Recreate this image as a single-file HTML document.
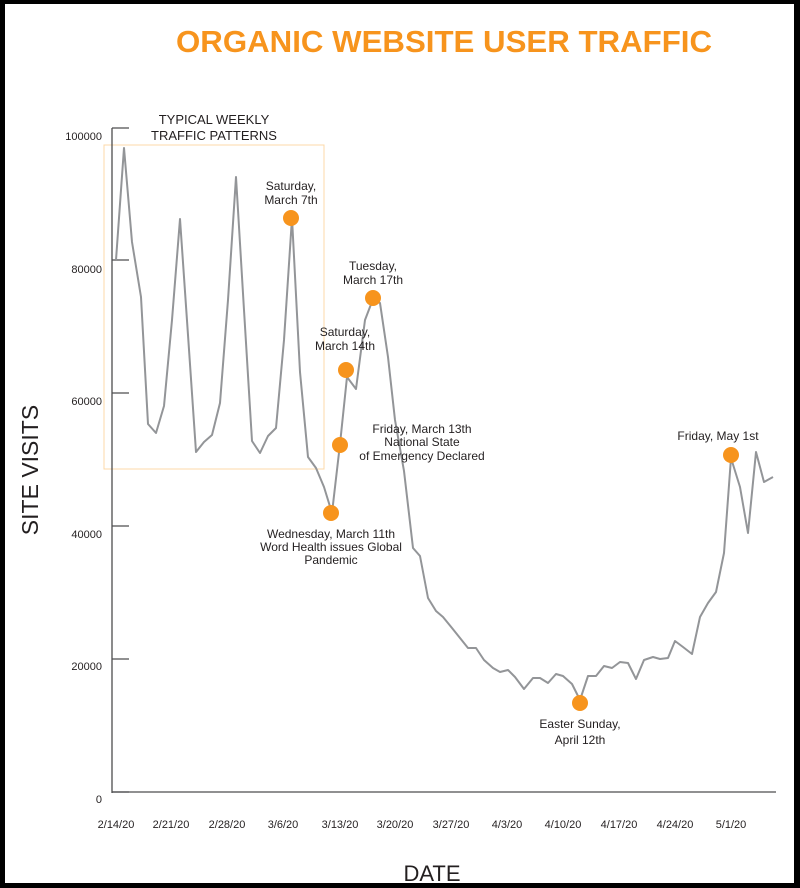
<!DOCTYPE html>
<html><head><meta charset="utf-8"><style>
html,body{margin:0;padding:0;background:#000}
svg{display:block}
text{font-family:"Liberation Sans",sans-serif;fill:#231f20}
</style></head><body>
<svg width="800" height="888" viewBox="0 0 800 888" xmlns="http://www.w3.org/2000/svg">
<rect x="0" y="0" width="800" height="888" fill="#000"/>
<rect x="5" y="4" width="789" height="879" fill="#fff"/>
<text x="444" y="52" text-anchor="middle" font-size="31" font-weight="bold" style="fill:#f7941d" textLength="536" lengthAdjust="spacingAndGlyphs">ORGANIC WEBSITE USER TRAFFIC</text>
<rect x="104" y="145" width="220" height="324" fill="none" stroke="#fcd9a8" stroke-width="1"/>
<text x="214" y="124" text-anchor="middle" font-size="13">TYPICAL WEEKLY</text>
<text x="214" y="140" text-anchor="middle" font-size="13">TRAFFIC PATTERNS</text>
<g stroke="#4d4d4f" stroke-width="1.3" fill="none">
<line x1="112" y1="128" x2="112" y2="793"/>
<line x1="112" y1="792" x2="776" y2="792"/>
<line x1="112" y1="128" x2="129" y2="128"/>
<line x1="112" y1="260" x2="129" y2="260"/>
<line x1="112" y1="393" x2="129" y2="393"/>
<line x1="112" y1="526" x2="129" y2="526"/>
<line x1="112" y1="659" x2="129" y2="659"/>
<line x1="112" y1="792" x2="129" y2="792"/>
</g>
<g font-size="11" text-anchor="end">
<text x="102" y="140">100000</text>
<text x="102" y="273">80000</text>
<text x="102" y="405">60000</text>
<text x="102" y="538">40000</text>
<text x="102" y="670">20000</text>
<text x="102" y="803">0</text>
</g>
<g font-size="11" text-anchor="middle">
<text x="116" y="828">2/14/20</text><text x="171" y="828">2/21/20</text><text x="227" y="828">2/28/20</text><text x="283" y="828">3/6/20</text><text x="340" y="828">3/13/20</text><text x="395" y="828">3/20/20</text><text x="451" y="828">3/27/20</text><text x="507" y="828">4/3/20</text><text x="563" y="828">4/10/20</text><text x="619" y="828">4/17/20</text><text x="675" y="828">4/24/20</text><text x="731" y="828">5/1/20</text>
</g>
<text x="432" y="881" text-anchor="middle" font-size="22">DATE</text>
<text transform="translate(38,470) rotate(-90)" text-anchor="middle" font-size="23">SITE VISITS</text>
<polyline fill="none" stroke="#939598" stroke-width="2" stroke-linejoin="round" points="116,260 124,148 132,242 141,297 148,424 156,433 164,406 172,320 180,219 188,335 196,452 204,442 212,435 220,403 228,300 236,177 244,310 252,441 260,453 268,436 276,428 284,340 292,218 300,372 308,457 316,468 324,487 332,513 340,444 347,377 356,389 365,320 373,299 380,303 388,357 395,420 404,471 413,548 420,556 428,598 436,611 443,617 452,628 460,638 468,648 476,648 484,660 493,668 500,672 508,670 515,677 524,689 533,678 540,678 548,683 556,674 563,676 572,684 580,700 588,676 596,676 604,666 612,668 620,662 628,663 636,679 644,660 653,657 660,659 668,658 675,641 683,647 692,654 700,617 708,603 716,592 724,553 731,458 740,487 748,533 756,452 764,482 773,477"/>
<g fill="#f7941d">
<circle cx="291" cy="218" r="8"/>
<circle cx="331" cy="513" r="8"/>
<circle cx="340" cy="445" r="8"/>
<circle cx="346" cy="370" r="8"/>
<circle cx="373" cy="298" r="8"/>
<circle cx="580" cy="703" r="8"/>
<circle cx="731" cy="455" r="8"/>
</g>
<g font-size="12" text-anchor="middle">
<text x="291" y="190">Saturday,</text><text x="291" y="204">March 7th</text>
<text x="373" y="270">Tuesday,</text><text x="373" y="284">March 17th</text>
<text x="345" y="336">Saturday,</text><text x="345" y="350">March 14th</text>
<text x="422" y="433">Friday, March 13th</text><text x="422" y="446">National State</text><text x="422" y="460">of  Emergency Declared</text>
<text x="331" y="538">Wednesday, March 11th</text><text x="331" y="551">Word Health issues Global</text><text x="331" y="564">Pandemic</text>
<text x="580" y="728">Easter Sunday,</text><text x="580" y="744">April 12th</text>
<text x="718" y="440">Friday, May 1st</text>
</g>
</svg>
</body></html>
